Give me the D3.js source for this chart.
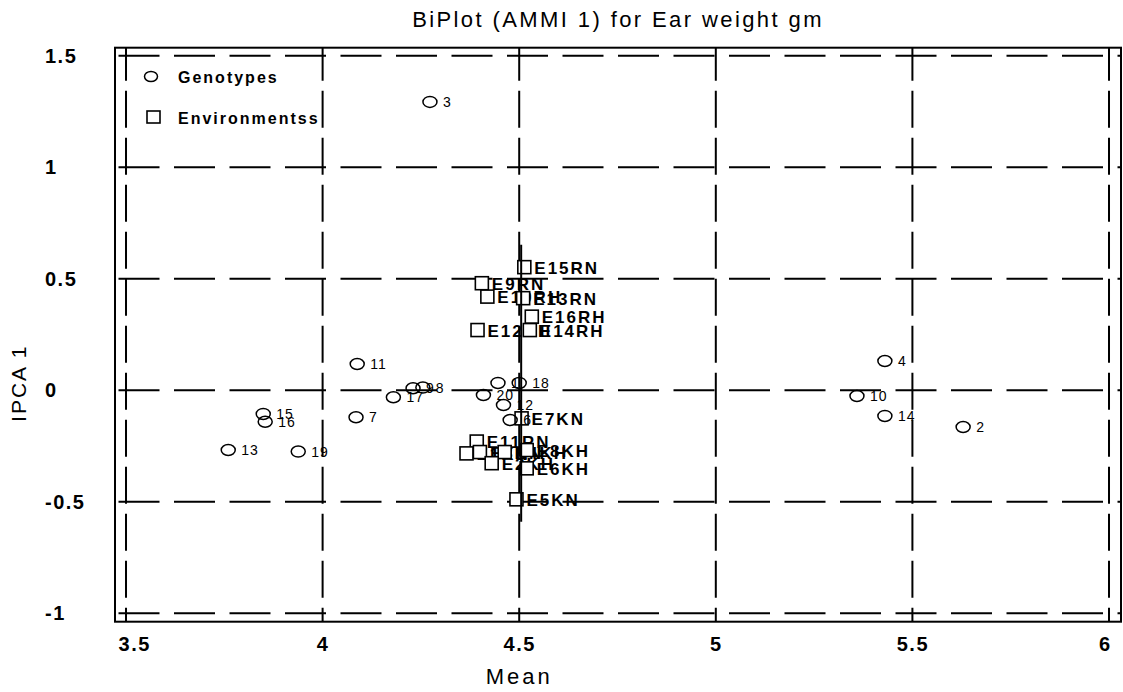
<!DOCTYPE html>
<html>
<head>
<meta charset="utf-8">
<script src="https://cdn.jsdelivr.net/npm/d3@7"></script>
<style>
  body { margin: 0; background: #fff; }
  svg { display: block; font-family: "Liberation Sans", Arial, sans-serif; }
</style>
</head>
<body>
<div id="chart"></div>
<script>
/* DATA */
const xTicks = [3.5, 4, 4.5, 5, 5.5, 6];
const yTicks = [1.5, 1, 0.5, 0, -0.5, -1];

// genotypes (circles)
const genoNames = ["3", "4", "10", "14", "2", "11", "7", "15", "16", "13", "19", "17", "9", "8", "20", "12", "1", "18", "6"];
const genoMean  = [4.273, 5.430, 5.359, 5.430, 5.629, 4.088, 4.085, 3.849, 3.854, 3.760, 3.938, 4.180, 4.230, 4.255, 4.409, 4.460, 4.446, 4.500, 4.477];
const genoPCA   = [1.293, 0.131, -0.026, -0.115, -0.165, 0.118, -0.121, -0.106, -0.141, -0.268, -0.275, -0.031, 0.009, 0.012, -0.021, -0.066, 0.033, 0.033, -0.133];

// environments (squares)
const envNames = ["E15RN", "E9RN", "E10RH", "E13RN", "E16RH", "E12RH", "E14RH", "E7KN", "E11RN", "E1KN", "E3KN", "E4KH", "E2KH", "E8KH", "E6KH", "E5KN"];
const envMean  = [4.513, 4.405, 4.419, 4.510, 4.532, 4.394, 4.527, 4.506, 4.392, 4.366, 4.400, 4.463, 4.430, 4.519, 4.519, 4.493];
const envPCA   = [0.552, 0.480, 0.420, 0.413, 0.330, 0.270, 0.270, -0.126, -0.230, -0.283, -0.277, -0.277, -0.327, -0.268, -0.350, -0.489];

const grandMean = 4.505;
const legendLabels = ["Genotypes", "Environmentss"];

/* LAYOUT */
const W = 1123, H = 692;
const frame = {left: 115, right: 1121, top: 47.7, bottom: 621.7};

const svg = d3.select("#chart").append("svg")
  .attr("width", W)
  .attr("height", H);

const x = d3.scaleLinear().domain([3.472, 6.0305]).range([frame.left, frame.right]);
const y = d3.scaleLinear().domain([-1.0377, 1.536]).range([frame.bottom, frame.top]);

const genotypes = genoNames.map((n, i) => ({name: n, mean: genoMean[i], pca: genoPCA[i]}));
const environments = envNames.map((n, i) => ({name: n, mean: envMean[i], pca: envPCA[i]}));

// dashed grid
svg.append("g").selectAll("line")
  .data(yTicks)
  .join("line")
  .attr("x1", frame.left).attr("x2", frame.right)
  .attr("y1", d => y(d)).attr("y2", d => y(d))
  .attr("stroke", "#000").attr("stroke-width", 2)
  .attr("stroke-dasharray", "41,14.5")
  .attr("stroke-dashoffset", 52);

svg.append("g").selectAll("line")
  .data(xTicks)
  .join("line")
  .attr("x1", d => x(d)).attr("x2", d => x(d))
  .attr("y1", frame.top).attr("y2", frame.bottom)
  .attr("stroke", "#000").attr("stroke-width", 2)
  .attr("stroke-dasharray", "37,10")
  .attr("stroke-dashoffset", 4);

// frame
svg.append("rect")
  .attr("x", frame.left).attr("y", frame.top)
  .attr("width", frame.right - frame.left)
  .attr("height", frame.bottom - frame.top)
  .attr("fill", "none").attr("stroke", "#000").attr("stroke-width", 2);

// axes (labels only, grid drawn above)
const xAxis = svg.append("g")
  .attr("transform", `translate(0,${frame.bottom})`)
  .call(d3.axisBottom(x).tickValues(xTicks).tickFormat(d => String(d)).tickSize(0).tickPadding(15));
xAxis.select(".domain").remove();
xAxis.selectAll("text")
  .attr("fill", "#000")
  .style("font-size", "20px")
  .style("font-weight", "bold")
  .style("letter-spacing", "1.5px")
  .style("font-family", "Liberation Sans, Arial, sans-serif");
// keep end labels inside the frame, as in the original
xAxis.selectAll(".tick").each(function(d) {
  const t = d3.select(this).select("text");
  const half = t.node().getComputedTextLength() / 2;
  const px = x(d);
  let shift = 0;
  if (px - half < frame.left + 3) shift = frame.left + 3 - (px - half);
  if (px + half > frame.right - 10) shift = frame.right - 10 - (px + half);
  t.attr("x", shift);
});

const yAxis = svg.append("g")
  .attr("transform", `translate(${frame.left},0)`)
  .call(d3.axisLeft(y).tickValues(yTicks).tickFormat(d => String(d)).tickSize(0));
yAxis.select(".domain").remove();
yAxis.selectAll("text")
  .attr("fill", "#000")
  .attr("text-anchor", "start")
  .attr("x", 45 - frame.left)
  .style("font-size", "20px")
  .style("font-weight", "bold")
  .style("letter-spacing", "1.5px")
  .style("font-family", "Liberation Sans, Arial, sans-serif");

// titles
svg.append("text")
  .attr("x", (frame.left + frame.right) / 2)
  .attr("y", 27)
  .attr("text-anchor", "middle")
  .style("font-size", "22px")
  .style("letter-spacing", "2.4px")
  .text("BiPlot (AMMI 1) for Ear weight gm");

svg.append("text")
  .attr("x", x(4.5))
  .attr("y", 684)
  .attr("text-anchor", "middle")
  .style("font-size", "22px")
  .style("letter-spacing", "3px")
  .text("Mean");

svg.append("text")
  .attr("transform", `translate(26,${y(0) - 7}) rotate(-90)`)
  .attr("text-anchor", "middle")
  .style("font-size", "21px")
  .style("letter-spacing", "2px")
  .text("IPCA 1");

// environments: white squares + labels
const envG = svg.append("g");
environments.forEach(d => {
  envG.append("rect")
    .attr("x", x(d.mean) - 6.5).attr("y", y(d.pca) - 6.5)
    .attr("width", 13).attr("height", 13)
    .attr("fill", "#fff").attr("stroke", "#000").attr("stroke-width", 1.6);
  envG.append("text")
    .attr("x", x(d.mean) + 10).attr("y", y(d.pca) + 6.5)
    .style("font-size", "17px")
    .style("font-weight", "bold")
    .style("letter-spacing", "2px")
    .text(d.name);
});

// genotypes: open ellipses + labels
const genoG = svg.append("g");
genoG.selectAll("ellipse")
  .data(genotypes)
  .join("ellipse")
  .attr("cx", d => x(d.mean)).attr("cy", d => y(d.pca))
  .attr("rx", 7).attr("ry", 5.5)
  .attr("fill", "none").attr("stroke", "#000").attr("stroke-width", 1.5);
genoG.selectAll("text")
  .data(genotypes)
  .join("text")
  .attr("x", d => x(d.mean) + 13).attr("y", d => y(d.pca) + 5)
  .style("font-size", "14px")
  .style("letter-spacing", "1px")
  .text(d => d.name);

// solid grand-mean line over the environment range
const envExt = d3.extent(envPCA);
svg.append("line")
  .attr("x1", x(grandMean)).attr("x2", x(grandMean))
  .attr("y1", y(envExt[1] + 0.1)).attr("y2", y(envExt[0] - 0.1))
  .attr("stroke", "#000").attr("stroke-width", 2);

// legend
const legend = svg.append("g");
legend.append("ellipse")
  .attr("cx", 151).attr("cy", 76.5).attr("rx", 6.5).attr("ry", 5)
  .attr("fill", "none").attr("stroke", "#000").attr("stroke-width", 1.5);
legend.append("rect")
  .attr("x", 147).attr("y", 111).attr("width", 13).attr("height", 12)
  .attr("fill", "#fff").attr("stroke", "#000").attr("stroke-width", 1.6);
legend.selectAll("text")
  .data(legendLabels)
  .join("text")
  .attr("x", 178)
  .attr("y", (d, i) => 83 + i * 41)
  .style("font-size", "16px")
  .style("font-weight", "bold")
  .style("letter-spacing", "2px")
  .text(d => d);
</script>
</body>
</html>
